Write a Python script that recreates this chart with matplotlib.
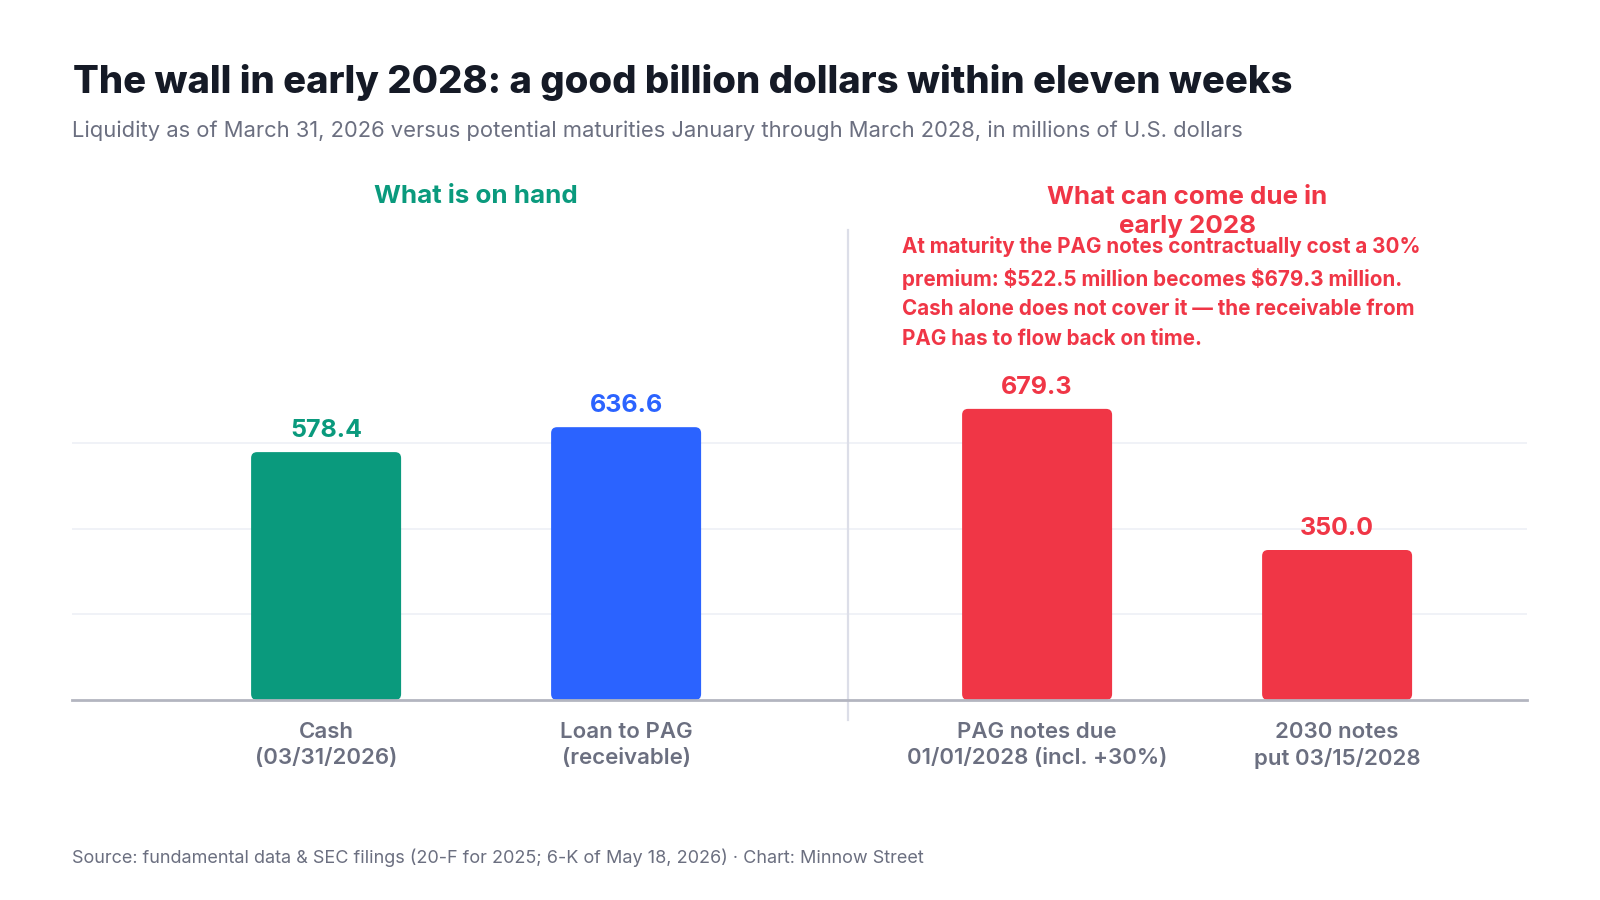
import matplotlib
matplotlib.use("Agg")
import matplotlib.pyplot as plt
from matplotlib.patches import FancyBboxPatch
import matplotlib.transforms as mtransforms

# ---- data ----
categories = ["Cash\n(03/31/2026)", "Loan to PAG\n(receivable)",
              "PAG notes due\n01/01/2028 (incl. +30%)", "2030 notes\nput 03/15/2028"]
values = [578.4, 636.6, 679.3, 350.0]
positions = [0.0, 1.0, 2.37, 3.37]
bar_colors = ["#0a9a7d", "#2b63ff", "#f03646", "#f03646"]
label_colors = ["#0a9a7d", "#2b63ff", "#f03646", "#f03646"]
group_titles = ["What is on hand", "What can come due in\nearly 2028"]
group_colors = ["#0a9a7d", "#f03646"]
yticks = [0, 200, 400, 600]

title = "The wall in early 2028: a good billion dollars within eleven weeks"
subtitle = ("Liquidity as of March 31, 2026 versus potential maturities January through "
            "March 2028, in millions of U.S. dollars")
note = ("At maturity the PAG notes contractually cost a 30%\n"
        "premium: \\$522.5 million becomes \\$679.3 million.\n"
        "Cash alone does not cover it \u2014 the receivable from\n"
        "PAG has to flow back on time.")
source = ("Source: fundamental data & SEC filings (20-F for 2025; 6-K of May 18, 2026) "
          "\u00b7 Chart: Minnow Street")

FONT = ["Inter", "DejaVu Sans"]
plt.rcParams["font.family"] = FONT
GREY = "#6b6f80"
DARK = "#151a26"

W, H = 1600, 900
fig = plt.figure(figsize=(16, 9), dpi=100)
fig.patch.set_facecolor("white")

def fx(px):
    return px / W

def fy(py):
    return 1 - py / H

ax = fig.add_axes([fx(72), fy(700), fx(1527) - fx(72), fy(400) - fy(700)])
ax.set_xlim(-0.847, 4.003)
ax.set_ylim(0, 700)

bar_w = 0.5
bars = ax.bar(positions, values, width=bar_w, color=bar_colors, zorder=3)
# replace with rounded bars
x_unit_px = (1527 - 72) / (4.003 + 0.847)
y_unit_px = 300 / 700
r_px = 6
for b in bars:
    b.set_visible(False)
    p = FancyBboxPatch((b.get_x(), b.get_y()), b.get_width(), b.get_height(),
                       boxstyle=f"round,pad=0,rounding_size={r_px / x_unit_px}",
                       mutation_aspect=(x_unit_px / y_unit_px),
                       facecolor=b.get_facecolor(), edgecolor="none", zorder=3)
    ax.add_patch(p)

for xp, v, c in zip(positions, values, label_colors):
    ax.annotate(f"{v:.1f}", (xp, v), xytext=(0, 11), textcoords="offset points",
                ha="center", va="baseline", fontsize=18, fontweight="bold", color=c)

# grid
for yv in yticks[1:]:
    ax.axhline(yv, color="#eef0f6", lw=1.2, zorder=1)
ax.set_yticks([])
for s in ["left", "right", "top"]:
    ax.spines[s].set_visible(False)
ax.spines["bottom"].set_color("#b3b5c0")
ax.spines["bottom"].set_linewidth(2)
ax.spines["bottom"].set_zorder(4)

ax.set_xticks(positions)
ax.set_xticklabels(categories, fontsize=16, fontweight="semibold", color=GREY,
                   linespacing=1.35)
ax.tick_params(axis="x", length=0, pad=16)

# divider
div_x = 1.74
ax.axvline(div_x, ymin=-20 / 300, ymax=(700 - 230) / 300, color="#dcdee8", lw=1.6,
           clip_on=False, zorder=2)

# group headers (baseline refers to the last line)
bt = mtransforms.blended_transform_factory(ax.transData, fig.transFigure)
g_centers = [(positions[0] + positions[1]) / 2, (positions[2] + positions[3]) / 2]
g_last_baselines = [203, 233]
for gx, gt, gc, gb in zip(g_centers, group_titles, group_colors, g_last_baselines):
    ax.text(gx, fy(gb), gt, transform=bt, ha="center", va="baseline",
            fontsize=18.7, fontweight="bold", color=gc, linespacing=1.33,
            multialignment="center")

# note (baseline = last line)
fig.text(fx(902), fy(345), note, ha="left", va="baseline", fontsize=14.85,
         fontweight="bold", color="#f03646", linespacing=1.6)

# titles
fig.text(fx(73), fy(93), title, ha="left", va="baseline", fontsize=27.5,
         fontweight="heavy", color=DARK)
fig.text(fx(72), fy(137), subtitle, ha="left", va="baseline", fontsize=15.8,
         color=GREY)
fig.text(fx(72), fy(863), source, ha="left", va="baseline", fontsize=13,
         color=GREY)

fig.savefig("out.png", dpi=100, facecolor="white")
